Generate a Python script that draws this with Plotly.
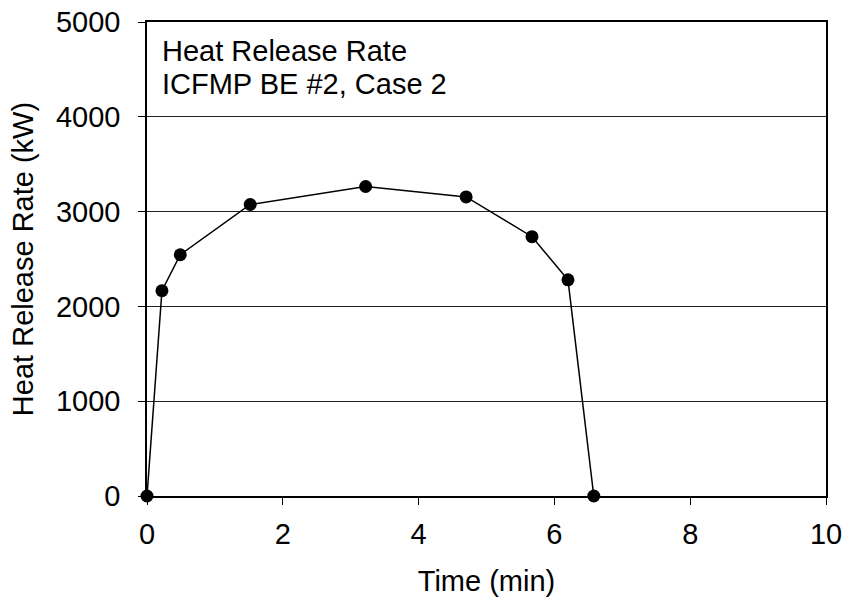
import plotly.graph_objects as go

time_min = [0.0, 0.22, 0.49, 1.52, 3.22, 4.70, 5.67, 6.20, 6.58]
hrr_kw = [0, 2165, 2545, 3075, 3265, 3155, 2735, 2280, 0]
x_ticks = [0, 2, 4, 6, 8, 10]
y_ticks = [0, 1000, 2000, 3000, 4000, 5000]
title_lines = ["Heat Release Rate", "ICFMP BE #2, Case 2"]

font = "Liberation Sans, Arial, sans-serif"
fs = 29

fig = go.Figure()
fig.add_trace(go.Scatter(
    x=time_min, y=hrr_kw, mode="lines+markers",
    line=dict(color="black", width=1.5),
    marker=dict(color="black", size=13),
    cliponaxis=False, showlegend=False,
))

fig.update_layout(
    width=849, height=604,
    margin=dict(l=147, r=23, t=22, b=108),
    paper_bgcolor="white", plot_bgcolor="white",
    font=dict(family=font, size=fs, color="black"),
    xaxis=dict(
        range=[0, 10], tickvals=x_ticks, showgrid=False, zeroline=False,
        ticks="outside", ticklen=7, tickcolor="black", tickwidth=1,
        showline=True, linecolor="black", linewidth=1.5, mirror=True,
        title=dict(text="Time (min)", standoff=22, font=dict(size=fs)),
        tickfont=dict(size=fs), ticklabelstandoff=4, automargin=False,
    ),
    yaxis=dict(
        range=[0, 5000], tickvals=y_ticks, showgrid=True, gridcolor="#222", gridwidth=1,
        zeroline=False,
        ticks="outside", ticklen=7, tickcolor="black", tickwidth=1,
        showline=True, linecolor="black", linewidth=1.5, mirror=True,
        title=dict(text="Heat Release Rate (kW)", standoff=14, font=dict(size=fs)),
        tickfont=dict(size=fs), ticklabelstandoff=12, automargin=False,
    ),
    annotations=[
        dict(x=0, y=1, xref="paper", yref="paper", xanchor="left", yanchor="middle",
             xshift=13, yshift=-29, text=title_lines[0],
             showarrow=False, align="left", font=dict(size=fs)),
        dict(x=0, y=1, xref="paper", yref="paper", xanchor="left", yanchor="middle",
             xshift=13, yshift=-62, text=title_lines[1],
             showarrow=False, align="left", font=dict(size=fs)),
    ],
)

fig.write_html("out.html")
